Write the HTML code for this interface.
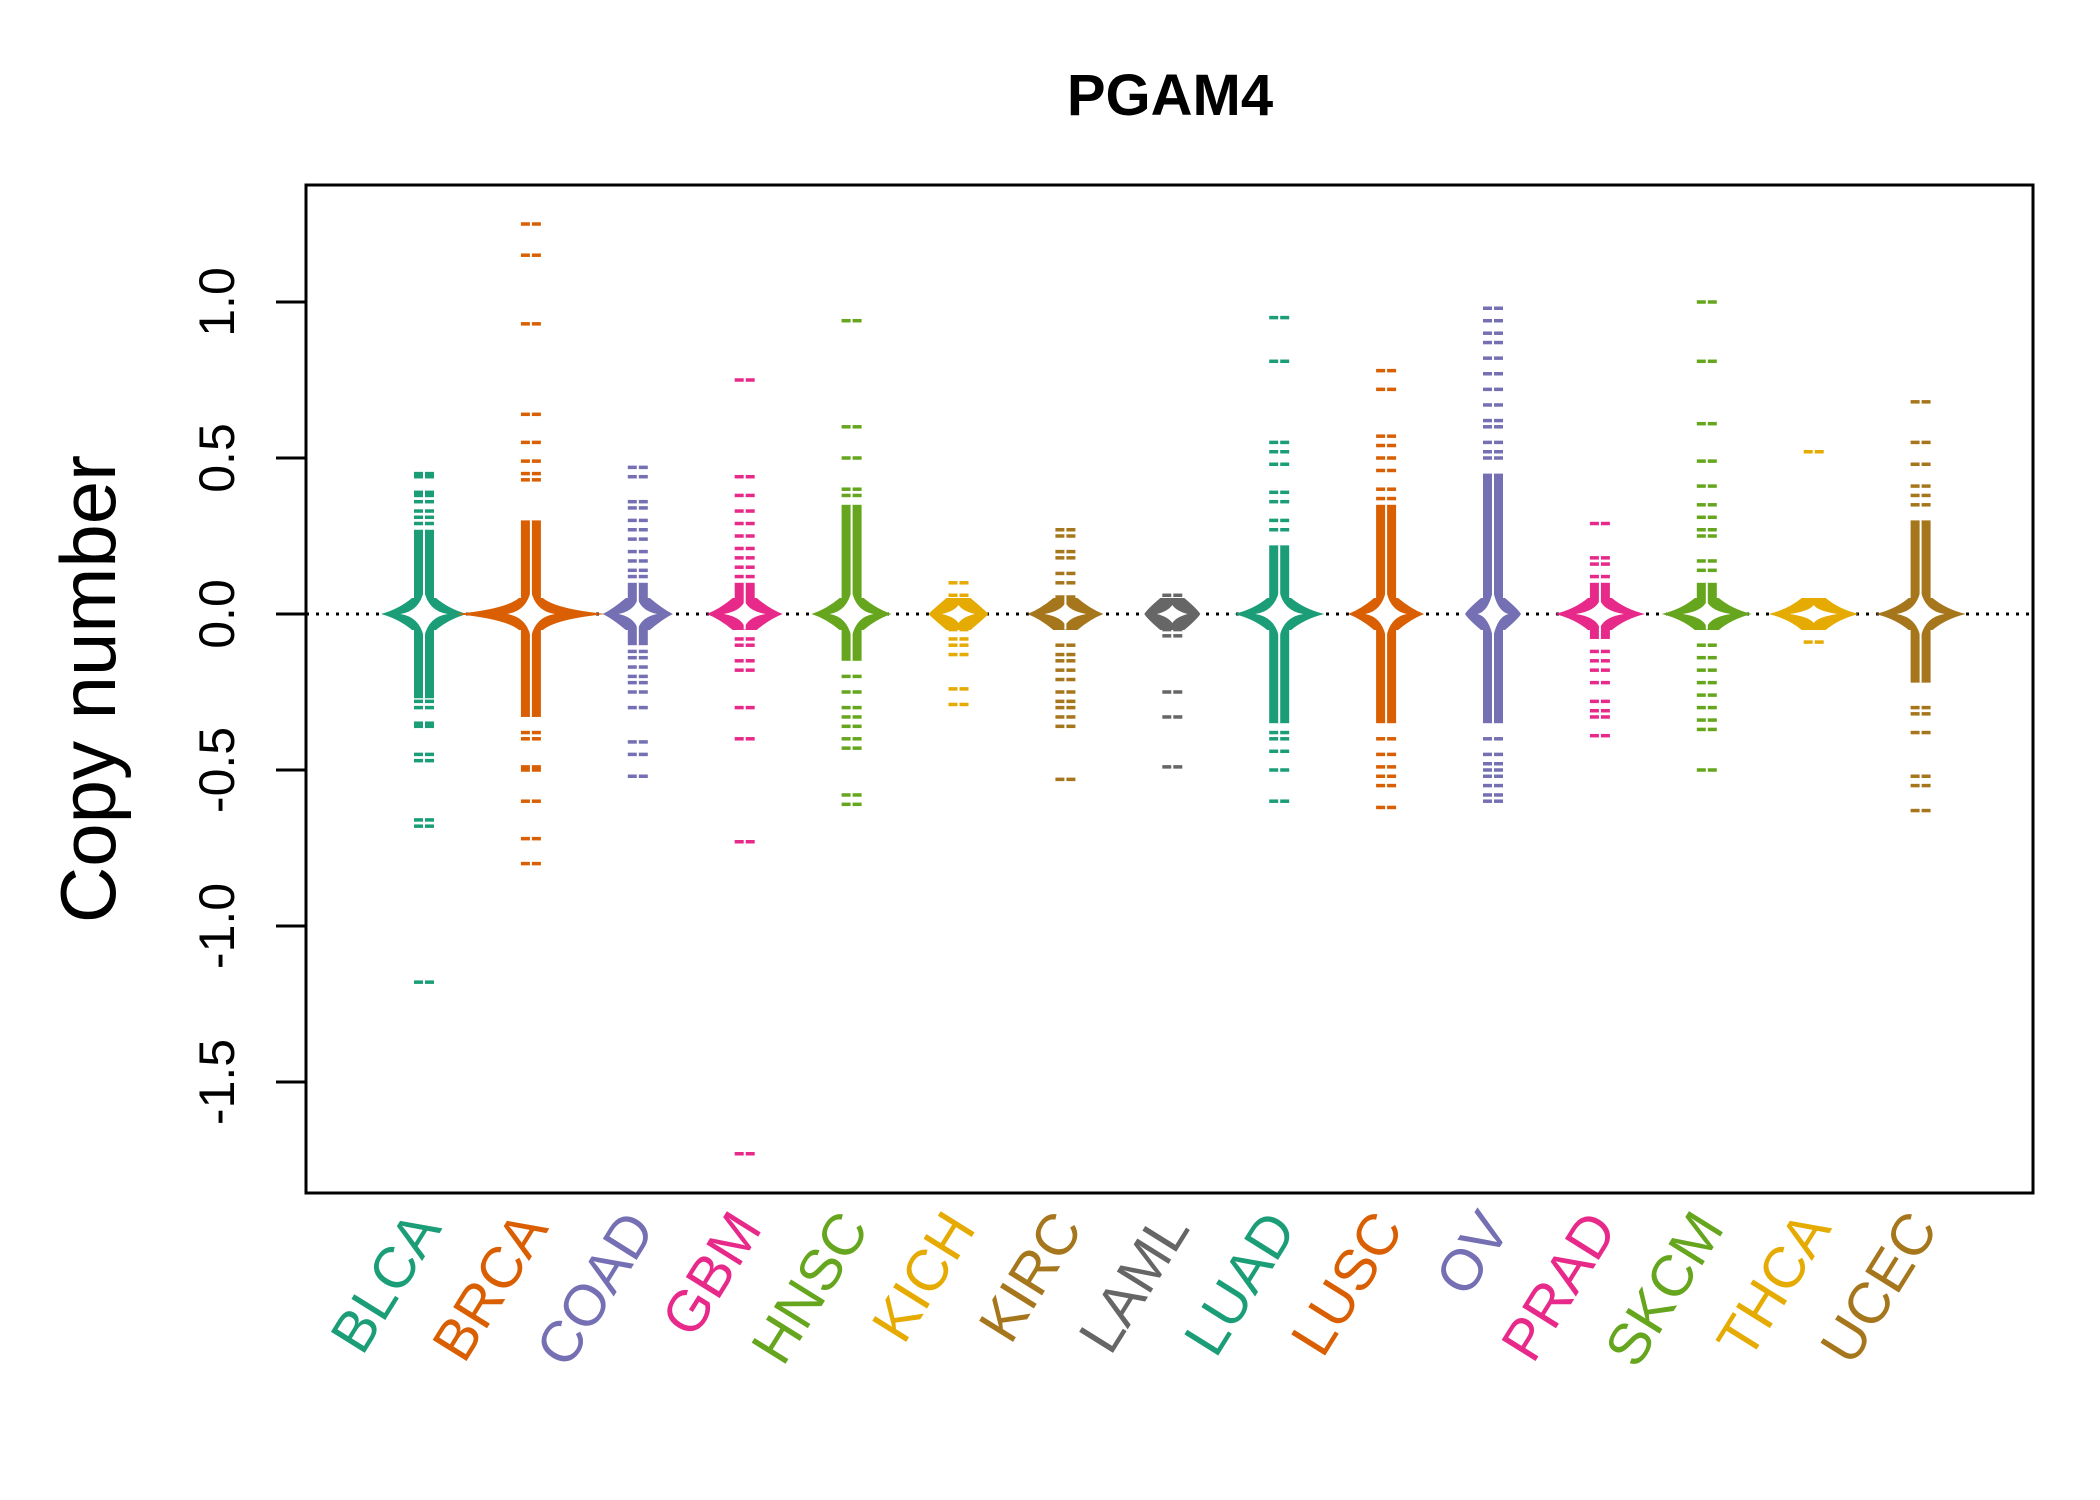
<!DOCTYPE html>
<html><head><meta charset="utf-8"><style>
html,body{margin:0;padding:0;background:#fff}
svg{display:block}
text{font-family:"Liberation Sans",Arial,sans-serif}
</style></head><body>
<svg id="chart" width="2100" height="1500" viewBox="0 0 2100 1500" xmlns="http://www.w3.org/2000/svg">
<rect width="2100" height="1500" fill="#fff"/>
<text x="1170" y="115" text-anchor="middle" font-size="58" font-weight="bold">PGAM4</text>
<text transform="translate(115,689) rotate(-90)" text-anchor="middle" font-size="78">Copy number</text>
<g id="plot"></g>
<rect x="306" y="185" width="1727" height="1008" fill="none" stroke="#000" stroke-width="3"/>
</svg>
<script>
const categories = ["BLCA","BRCA","COAD","GBM","HNSC","KICH","KIRC","LAML","LUAD","LUSC","OV","PRAD","SKCM","THCA","UCEC"];
const colors = ["#1B9E77","#D95F02","#7570B3","#E7298A","#66A61E","#E6AB02","#A6761D","#666666","#1B9E77","#D95F02","#7570B3","#E7298A","#66A61E","#E6AB02","#A6761D"];
const coreLo = [-0.27,-0.33,-0.1,-0.05,-0.15,-0.02,-0.05,-0.02,-0.35,-0.35,-0.35,-0.08,-0.05,-0.01,-0.22];
const coreHi = [0.27,0.3,0.1,0.1,0.35,0.02,0.06,0.02,0.22,0.35,0.45,0.1,0.1,0.01,0.3];
const armWidth = [43,75,35,38,40,30,38,28,45,38,28,45,45,45,45];
const points = [
 [0.45,0.44,0.39,0.38,0.36,0.33,0.31,0.29,-0.28,-0.3,-0.35,-0.36,-0.45,-0.47,-0.66,-0.68,-1.18],
 [1.25,1.15,0.93,0.64,0.55,0.49,0.45,0.43,-0.38,-0.4,-0.49,-0.5,-0.6,-0.72,-0.8],
 [0.47,0.44,0.36,0.34,0.3,0.27,0.24,0.2,0.17,0.14,0.12,-0.12,-0.14,-0.17,-0.2,-0.22,-0.25,-0.3,-0.41,-0.45,-0.52],
 [0.75,0.44,0.38,0.33,0.29,0.25,0.21,0.18,0.15,0.12,-0.08,-0.1,-0.15,-0.18,-0.3,-0.4,-0.73,-1.73],
 [0.94,0.6,0.5,0.4,0.38,-0.2,-0.25,-0.3,-0.33,-0.36,-0.4,-0.43,-0.58,-0.61],
 [0.1,0.06,0.03,-0.05,-0.08,-0.1,-0.13,-0.24,-0.29],
 [0.27,0.25,0.2,0.18,0.13,0.1,-0.1,-0.13,-0.15,-0.18,-0.21,-0.25,-0.28,-0.3,-0.33,-0.36,-0.53],
 [0.06,0.04,-0.05,-0.07,-0.25,-0.33,-0.49],
 [0.95,0.81,0.55,0.52,0.48,0.39,0.36,0.3,0.27,-0.38,-0.4,-0.44,-0.5,-0.6],
 [0.78,0.72,0.57,0.54,0.5,0.46,0.4,0.37,-0.4,-0.45,-0.49,-0.52,-0.55,-0.62],
 [0.98,0.94,0.9,0.87,0.82,0.77,0.72,0.67,0.62,0.6,0.55,0.52,0.5,-0.4,-0.45,-0.48,-0.5,-0.52,-0.55,-0.58,-0.6],
 [0.29,0.18,0.16,0.12,-0.12,-0.15,-0.18,-0.22,-0.28,-0.31,-0.33,-0.39],
 [1.0,0.81,0.61,0.49,0.41,0.35,0.31,0.27,0.25,0.17,0.14,-0.1,-0.14,-0.18,-0.22,-0.26,-0.3,-0.34,-0.37,-0.5],
 [0.52,0.04,0.02,-0.03,-0.09],
 [0.68,0.55,0.48,0.41,0.38,0.35,-0.3,-0.32,-0.38,-0.52,-0.55,-0.63]
];
const yTicks = [-1.5,-1.0,-0.5,0.0,0.5,1.0];
const yTickLabels = ["-1.5","-1.0","-0.5","0.0","0.5","1.0"];

const NS="http://www.w3.org/2000/svg";
const svg=document.getElementById('chart');
const plot=document.getElementById('plot');
function yScale(v){return 614-312*v;}
function xScale(i){return 424+106.9*i;}
function mk(tag,attrs,parent){const e=document.createElementNS(NS,tag);for(const k in attrs)e.setAttribute(k,attrs[k]);(parent||plot).appendChild(e);return e;}

yTicks.forEach((t,i)=>{
  const y=yScale(t);
  const tk=mk('line',{x1:276,x2:306,y1:y,y2:y,stroke:'#000','stroke-width':3},svg);
  
  
  const lb=mk('text',{transform:`translate(234,${y}) rotate(-90)`,'text-anchor':'middle','font-size':50},svg);
  lb.textContent=yTickLabels[i];
  
  
});

const zl=mk('line',{x1:306,x2:2033,y1:yScale(0),y2:yScale(0),stroke:'#000','stroke-width':3,'stroke-dasharray':'3 7'});



categories.forEach((c,i)=>{
  const cx=xScale(i), col=colors[i], y0=yScale(0), hw=armWidth[i];
  const g=mk('g',{});
  
  
  const r=mk('rect',{x:cx-10,y:yScale(coreHi[i]),width:20,height:Math.max(2,yScale(coreLo[i])-yScale(coreHi[i])),fill:col},g);
  
  
  const arm=mk('path',{d:`M${cx-hw},${y0} Q${cx-25},${y0-5} ${cx-12},${y0-16} L${cx+12},${y0-16} Q${cx+25},${y0-5} ${cx+hw},${y0} Q${cx+25},${y0+5} ${cx+12},${y0+16} L${cx-12},${y0+16} Q${cx-25},${y0+5} ${cx-hw},${y0} Z`,fill:col},g);
  
  
  points[i].forEach(v=>{
    const y=yScale(v);
    const d1=mk('line',{x1:cx-10,x2:cx-1,y1:y,y2:y,stroke:col,'stroke-width':3.5},g);
    
    
    const d2=mk('line',{x1:cx+1,x2:cx+10,y1:y,y2:y,stroke:col,'stroke-width':3.5},g);
    
    
  });
  const wh=Math.min(24,hw*0.55), wv=Math.min(24,Math.max(9,(coreHi[i]-coreLo[i])*40+7));
  const st=mk('path',{d:`M${cx-wh},${y0} Q${cx-4},${y0-3} ${cx},${y0-wv} Q${cx+4},${y0-3} ${cx+wh},${y0} Q${cx+4},${y0+3} ${cx},${y0+wv} Q${cx-4},${y0+3} ${cx-wh},${y0} Z`,fill:'#fff'},g);
  
  
  const center=mk('line',{x1:cx,x2:cx,y1:yScale(coreHi[i]),y2:yScale(coreLo[i]),stroke:'#fff','stroke-width':2},g);
  
  
  const lb=mk('text',{transform:`translate(${cx+2},${1218}) rotate(-58)`,'text-anchor':'end','dominant-baseline':'central','font-size':58,fill:col},svg);
  lb.textContent=c;
  
  
});
</script>
</body></html>
